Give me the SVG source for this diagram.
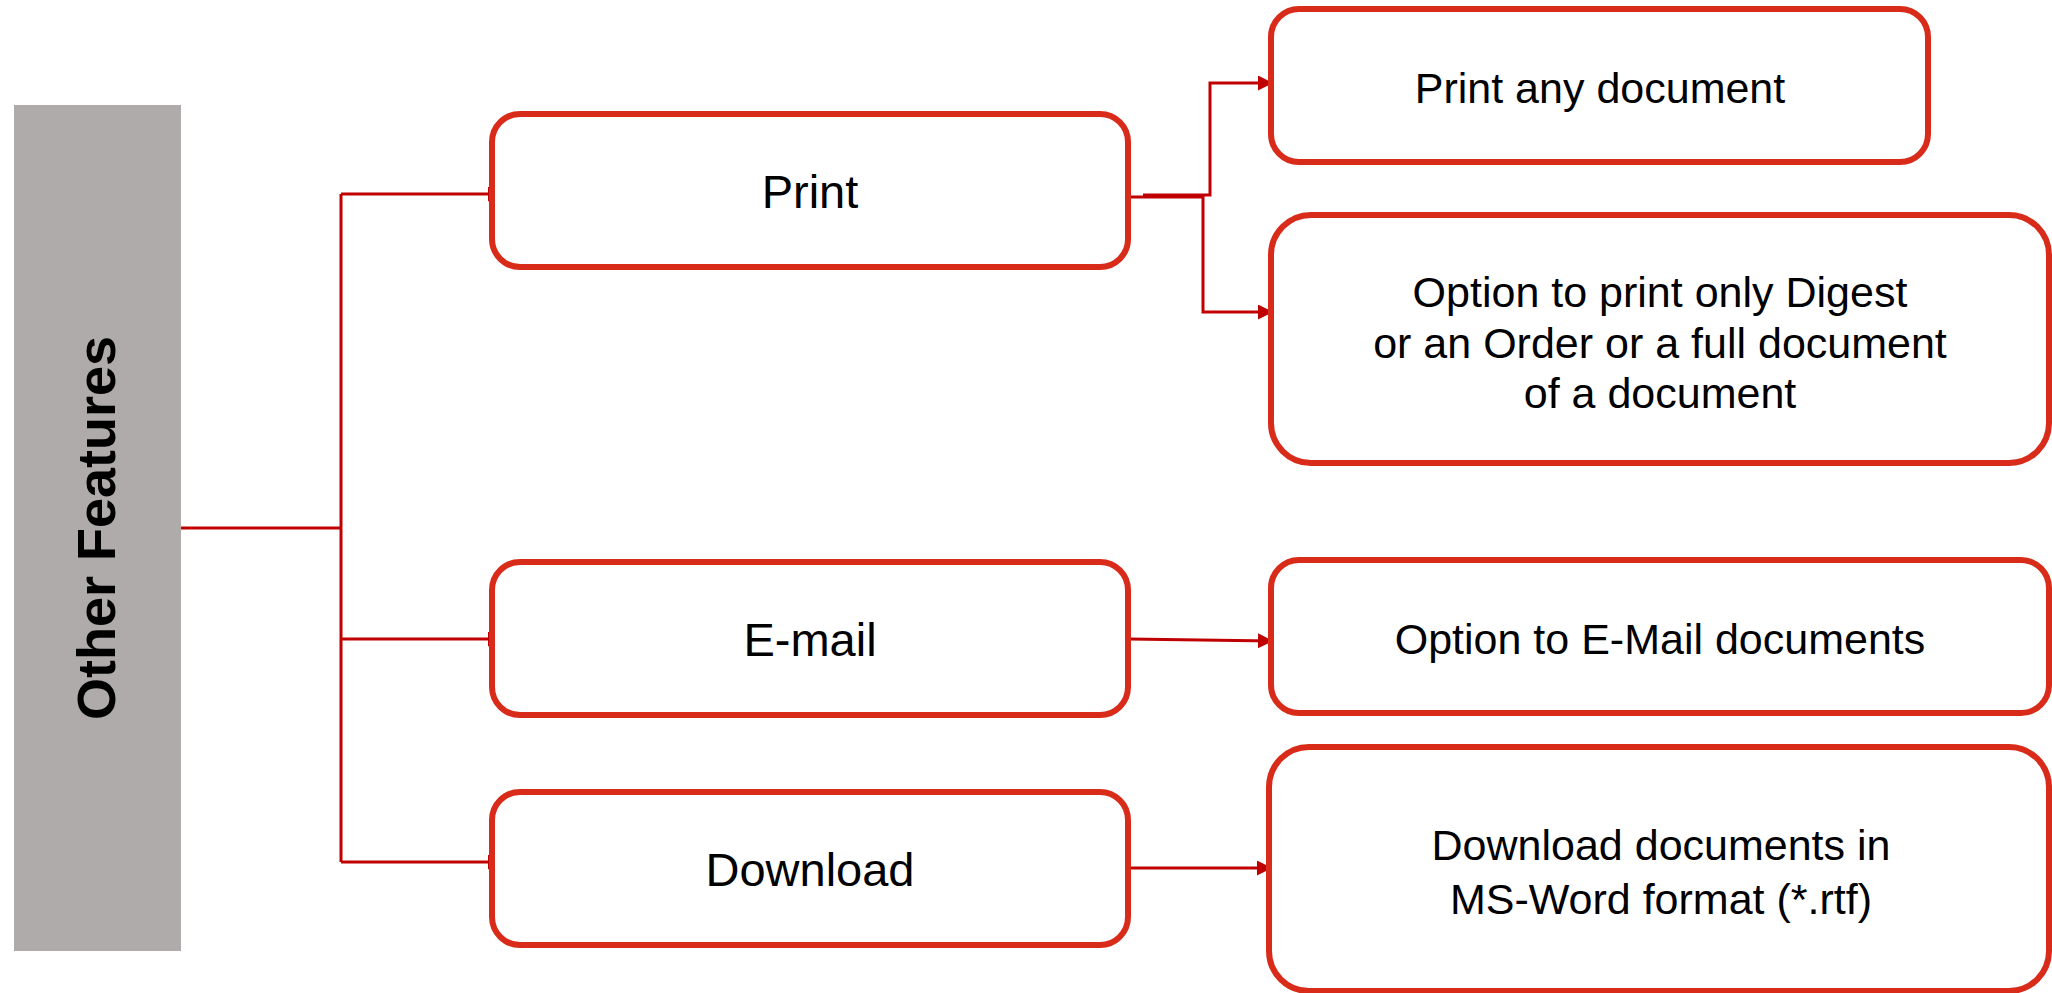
<svg xmlns="http://www.w3.org/2000/svg" width="2052" height="993" viewBox="0 0 2052 993">
<style>
.box{fill:#FFFFFF;stroke:#D92B1A;stroke-width:6}
.lbl{font-family:"Liberation Sans",Arial,sans-serif;font-size:47px;fill:#000000;text-anchor:middle}
.txt{font-family:"Liberation Sans",Arial,sans-serif;font-size:43px;fill:#000000;text-anchor:middle}
.conn{fill:none;stroke:#C00000;stroke-width:3}
</style>
<defs>
<marker id="arr" markerUnits="userSpaceOnUse" markerWidth="15" markerHeight="15" refX="14" refY="7.5" orient="auto">
<path d="M0,0 L15,7.5 L0,15 Z" fill="#C00000"/>
</marker>
</defs>
<g id="root">
<rect x="14" y="105" width="167" height="846" fill="#AFABAA"/>
<text x="115" y="528" transform="rotate(-90 115 528)" style="font-family:'Liberation Sans',Arial,sans-serif;font-size:54px;font-weight:bold;fill:#000000;text-anchor:middle">Other Features</text>
</g>
<g id="connectors">
<path class="conn" d="M181 528 H341"/>
<path class="conn" d="M341 194 V862"/>
<path class="conn" d="M341 194 H502" marker-end="url(#arr)"/>
<path class="conn" d="M341 639 H502" marker-end="url(#arr)"/>
<path class="conn" d="M341 862 H502" marker-end="url(#arr)"/>
<path class="conn" d="M1143 195 H1210 V83 H1272" marker-end="url(#arr)"/>
<path class="conn" d="M1129 197 H1203 V312 H1272" marker-end="url(#arr)"/>
<path class="conn" d="M1129 639 L1272 641" marker-end="url(#arr)"/>
<path class="conn" d="M1129 868 H1271" marker-end="url(#arr)"/>
</g>
<g id="print">
<rect class="box" x="492" y="114" width="636" height="153" rx="28"/>
<text class="lbl" x="810" y="208">Print</text>
</g>
<g id="email">
<rect class="box" x="492" y="562" width="636" height="153" rx="28"/>
<text class="lbl" x="810" y="656">E-mail</text>
</g>
<g id="download">
<rect class="box" x="492" y="792" width="636" height="153" rx="28"/>
<text class="lbl" x="810" y="886">Download</text>
</g>
<g id="print-any">
<rect class="box" x="1271" y="9" width="657" height="153" rx="28"/>
<text class="txt" x="1600" y="103">Print any document</text>
</g>
<g id="print-option">
<rect class="box" x="1271" y="215" width="778" height="248" rx="40"/>
<text class="txt" x="1660" y="307">Option to print only Digest</text>
<text class="txt" x="1660" y="358">or an Order or a full document</text>
<text class="txt" x="1660" y="408">of a document</text>
</g>
<g id="email-option">
<rect class="box" x="1271" y="560" width="778" height="153" rx="28"/>
<text class="txt" x="1660" y="654">Option to E-Mail documents</text>
</g>
<g id="download-option">
<rect class="box" x="1269" y="747" width="780" height="244" rx="40"/>
<text class="txt" x="1661" y="860">Download documents in</text>
<text class="txt" x="1661" y="914">MS-Word format (*.rtf)</text>
</g>
</svg>
